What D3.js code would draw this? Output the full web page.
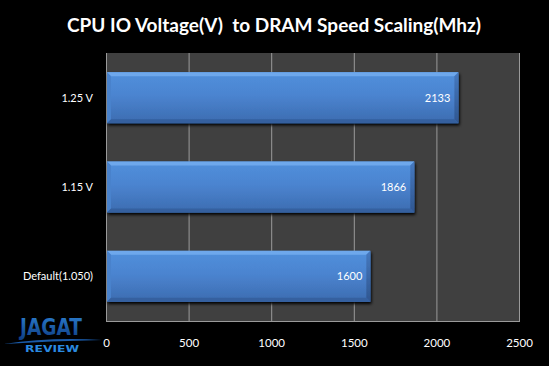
<!DOCTYPE html>
<html><head><meta charset="utf-8">
<script src="https://cdn.jsdelivr.net/npm/d3@7"></script>
<style>html,body{margin:0;padding:0;background:#000;}svg{display:block;}</style>
</head><body>
<script>
const categories = ["1.25 V", "1.15 V", "Default(1.050)"];
const values = [2133, 1866, 1600];
const tickValues = [0, 500, 1000, 1500, 2000, 2500];
const titleText = "CPU IO Voltage(V)  to DRAM Speed Scaling(Mhz)";

const W = 549, H = 366;
const m = {left: 106, right: 30, top: 53, bottom: 45};
const font = "Lato, 'Open Sans', sans-serif";

const svg = d3.select("body").append("svg").attr("width", W).attr("height", H);
svg.append("rect").attr("width", W).attr("height", H).attr("fill", "#000");

const defs = svg.append("defs");
const g1 = defs.append("linearGradient").attr("id","barg").attr("x1",0).attr("y1",0).attr("x2",0).attr("y2",1);
g1.append("stop").attr("offset","0%").attr("stop-color","#5190dc");
g1.append("stop").attr("offset","45%").attr("stop-color","#4b84d0");
g1.append("stop").attr("offset","100%").attr("stop-color","#3c6cb0");
const g2 = defs.append("linearGradient").attr("id","sideg").attr("x1",0).attr("y1",0).attr("x2",0).attr("y2",1);
g2.append("stop").attr("offset","0%").attr("stop-color","#4679bf");
g2.append("stop").attr("offset","100%").attr("stop-color","#2f5690");
const g3 = defs.append("linearGradient").attr("id","logog").attr("x1",0).attr("y1",0).attr("x2",0).attr("y2",1);
g3.append("stop").attr("offset","0%").attr("stop-color","#2c7fd0");
g3.append("stop").attr("offset","100%").attr("stop-color","#0d3a80");
const sh = defs.append("filter").attr("id","shadow").attr("x","-10%").attr("y","-20%").attr("width","130%").attr("height","160%");
sh.append("feGaussianBlur").attr("in","SourceAlpha").attr("stdDeviation",1.5);
sh.append("feOffset").attr("dx",1).attr("dy",2).attr("result","b");
const fm = sh.append("feMerge"); fm.append("feMergeNode").attr("in","b"); fm.append("feMergeNode").attr("in","SourceGraphic");

const x = d3.scaleLinear().domain([0, 2500]).range([m.left, W - m.right]);
const y = d3.scaleBand().domain(categories).range([m.top, H - m.bottom]).paddingInner(0.43).paddingOuter(0.215);

// plot background
svg.append("rect").attr("x", x(0)).attr("y", m.top).attr("width", x(2500)-x(0)).attr("height", H-m.bottom-m.top)
  .attr("fill", "#404040");

// gridlines
svg.append("g").selectAll("line").data(tickValues).join("line")
  .attr("x1", d=>x(d)+0.5).attr("x2", d=>x(d)+0.5).attr("y1", m.top).attr("y2", H-m.bottom)
  .attr("stroke", "#9a9a9a").attr("stroke-width", 1);
svg.append("line").attr("x1", x(0)).attr("x2", x(2500)+1).attr("y1", H-m.bottom+0.5).attr("y2", H-m.bottom+0.5)
  .attr("stroke","#9a9a9a");

// bars
const bars = svg.append("g").selectAll("g").data(categories.map((c,i)=>({c, v: values[i]}))).join("g")
  .attr("filter","url(#shadow)");
bars.each(function(d){
  const gg = d3.select(this);
  const x0 = x(0)+1, x1 = x(d.v), y0 = y(d.c), h = y.bandwidth(), b = 4;
  gg.append("rect").attr("x", x0).attr("y", y0).attr("width", x1-x0).attr("height", h).attr("fill","url(#barg)");
  gg.append("polygon").attr("points", `${x0},${y0} ${x1},${y0} ${x1-b},${y0+b} ${x0+b},${y0+b}`).attr("fill","#6ea8ec");
  gg.append("polygon").attr("points", `${x0},${y0} ${x0+b},${y0+b} ${x0+b},${y0+h-b} ${x0},${y0+h}`).attr("fill","#4a82cc");
  gg.append("polygon").attr("points", `${x1},${y0} ${x1},${y0+h} ${x1-b},${y0+h-b} ${x1-b},${y0+b}`).attr("fill","url(#sideg)");
  gg.append("polygon").attr("points", `${x0},${y0+h} ${x1},${y0+h} ${x1-b},${y0+h-b} ${x0+b},${y0+h-b}`).attr("fill","#35619f");
});

// value labels
svg.append("g").selectAll("text").data(values).join("text")
  .attr("x", (d)=>x(d)-8).attr("y", (d,i)=>y(categories[i])+y.bandwidth()/2+4)
  .attr("text-anchor","end").attr("fill","#fff").attr("font-family",font).attr("font-size",11)
  .text(d=>d);

// y axis labels
svg.append("g").selectAll("text").data(categories).join("text")
  .attr("x", 93).attr("y", d=>y(d)+y.bandwidth()/2+4)
  .attr("text-anchor","end").attr("fill","#fff").attr("font-family",font).attr("font-size",11)
  .text(d=>d);

// x axis labels
const xAxis = d3.axisBottom(x).tickValues(tickValues).tickFormat(d3.format("d")).tickSize(0).tickPadding(0);
const xa = svg.append("g").attr("transform", `translate(0,${H-m.bottom+18})`).call(xAxis);
xa.select(".domain").remove();
xa.selectAll("text").attr("fill","#fff").attr("font-family",font).attr("font-size",11.5);

// title
svg.append("text").attr("x", 274).attr("y", 32).attr("text-anchor","middle")
  .style("white-space","pre")
  .attr("fill","#fff").attr("font-family",font).attr("font-weight","bold").attr("font-size",19)
  .text(titleText);

// logo
const logo = svg.append("g");
logo.append("path").attr("d","M4,344 Q50,337 102,340 Q50,341 4,344Z").attr("fill","#1a5aa8");
logo.append("text").attr("x", 0).attr("y", 0).attr("transform","translate(51,335) scale(1,1.5)")
  .attr("text-anchor","middle").attr("font-family","'DejaVu Sans', sans-serif").attr("font-weight","bold")
  .attr("font-size",15).attr("textLength",62).attr("lengthAdjust","spacingAndGlyphs")
  .attr("fill","url(#logog)").text("JAGAT");
logo.append("text").attr("x", 0).attr("y", 0).attr("transform","translate(52,352)")
  .attr("text-anchor","middle").attr("font-family","'DejaVu Sans', sans-serif").attr("font-weight","bold")
  .attr("font-size",9).attr("textLength",54).attr("lengthAdjust","spacingAndGlyphs")
  .attr("fill","#2a8ae0").text("REVIEW");
</script>
</body></html>
